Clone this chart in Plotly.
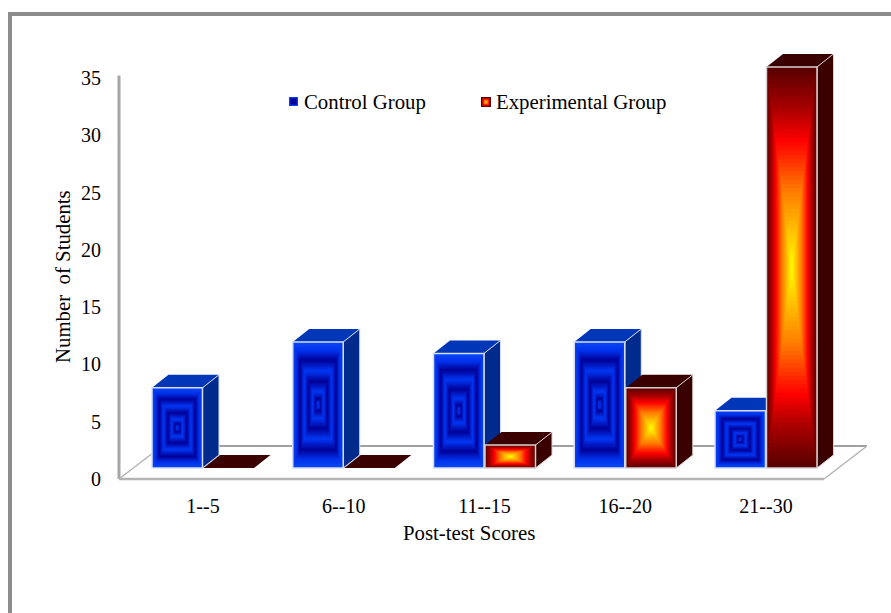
import plotly.graph_objects as go

# Chart data
categories = ["1--5", "6--10", "11--15", "16--20", "21--30"]
control_group = [7, 11, 10, 11, 5]
experimental_group = [0, 0, 2, 7, 35]
y_ticks = [0, 5, 10, 15, 20, 25, 30, 35]

# Canvas and plot-area geometry, in pixels
WIDTH, HEIGHT = 891, 613
LEFT, TOP, BOTTOM = 116, 40, 484
FLOOR_LEFT, FLOOR_RIGHT = 119, 824
ZERO_PX = 479          # pixel row of value 0 on the front floor edge
UNIT_PX = 11.46        # pixels per student
CAT_PX = 140.75        # pixels per category
CAT0_PX = 203          # pixel column of the first category

x_range = [(LEFT - CAT0_PX) / CAT_PX, (WIDTH - CAT0_PX) / CAT_PX]
y_range = [(ZERO_PX - BOTTOM) / UNIT_PX, (ZERO_PX - TOP) / UNIT_PX]

# Faux-3D bar geometry, in axis units
BAR_W = 50.5 / CAT_PX
GAP = 1 / CAT_PX
DX = 16.5 / CAT_PX
DY = 13 / UNIT_PX
BASE = 11 / UNIT_PX    # bars stand a little behind the front floor edge

FONT = "Liberation Serif"

BLUE_STOPS = [(0, (10, 70, 245)), (.13, (0, 50, 235)), (.28, (0, 0, 150)), (.45, (0, 56, 245)),
              (.62, (0, 0, 150)), (.78, (0, 56, 245)), (.9, (0, 0, 150)),
              (.96, (0, 56, 245)), (1, (0, 0, 190))]
RED_STOPS = [(0, (90, 0, 0)), (.2, (170, 0, 0)), (.36, (255, 0, 0)), (.6, (255, 120, 0)),
             (.8, (255, 190, 0)), (1, (255, 255, 0))]


def blend(stops, t):
    for (t0, c0), (t1, c1) in zip(stops, stops[1:]):
        if t <= t1:
            f = (t - t0) / (t1 - t0)
            r, g, b = [round(a + (z - a) * f) for a, z in zip(c0, c1)]
            return f"rgb({r},{g},{b})"
    return "rgb(%d,%d,%d)" % stops[-1][1]


def polygon(points, fill, line=None, width=0, xref="x", yref="y"):
    path = "M " + " L ".join(f"{x:.5f},{y:.5f}" for x, y in points) + " Z"
    return dict(type="path", path=path, xref=xref, yref=yref, fillcolor=fill,
                line=dict(color=line or fill, width=width), layer="above")


def rings(x0, x1, y0, y1, stops, steps, xref="x", yref="y"):
    """Nested rectangles that shrink towards the centre: a rectangular path gradient."""
    cx, cy = (x0 + x1) / 2, (y0 + y1) / 2
    out = []
    for i in range(steps):
        t = i / steps
        s = 1 - t
        out.append(dict(type="rect", xref=xref, yref=yref, layer="above",
                        x0=cx - (cx - x0) * s, x1=cx + (x1 - cx) * s,
                        y0=cy - (cy - y0) * s, y1=cy + (y1 - cy) * s,
                        fillcolor=blend(stops, t), line=dict(width=0)))
    return out


def bar_shapes(x0, value, stops, top_color, side_color, edge):
    x1 = x0 + BAR_W
    y0, y1 = BASE, BASE + value
    out = [polygon([(x0, y1), (x1, y1), (x1 + DX, y1 + DY), (x0 + DX, y1 + DY)], top_color)]
    if value > 0:
        out.append(polygon([(x1, y0), (x1 + DX, y0 + DY), (x1 + DX, y1 + DY), (x1, y1)],
                           side_color, edge, 1))
        out += rings(x0, x1, y0, y1, stops, 48)
        out.append(dict(type="rect", xref="x", yref="y", layer="above", x0=x0, x1=x1, y0=y0, y1=y1,
                        fillcolor="rgba(0,0,0,0)", line=dict(color=edge, width=1.5)))
    return out


def px_x(px):
    return (px - LEFT) / (WIDTH - LEFT)


def px_y(px):
    return (BOTTOM - px) / (BOTTOM - TOP)


shapes = []

# Picture frame: open at the bottom and on the right
shapes.append(dict(type="rect", xref="paper", yref="paper", layer="below", line=dict(width=0),
                   fillcolor="#8c8c8c", x0=px_x(8), x1=px_x(12), y0=px_y(613), y1=px_y(12)))
shapes.append(dict(type="rect", xref="paper", yref="paper", layer="below", line=dict(width=0),
                   fillcolor="#8c8c8c", x0=px_x(8), x1=px_x(891), y0=px_y(16), y1=px_y(12)))

# Floor and back wall, placed through the axis scales
fx0, fx1 = (FLOOR_LEFT - CAT0_PX) / CAT_PX, (FLOOR_RIGHT - CAT0_PX) / CAT_PX
back_dx, back_dy = 43 / CAT_PX, 33 / UNIT_PX
wall_top = 35.2
for (xa, ya, xb, yb), w, color in [
    ((fx0, 0, fx0, wall_top), 3, "#a6a6a6"),
    ((fx0 + back_dx, back_dy, fx1 + back_dx, back_dy), 2, "#a0a0a0"),
    ((fx0, 0, fx0 + back_dx, back_dy), 1.5, "#b4b4b4"),
    ((fx1, 0, fx1 + back_dx, back_dy), 1.5, "#b4b4b4"),
    ((fx0, 0, fx1, 0), 2.5, "#b4b4b4"),
]:
    shapes.append(dict(type="line", xref="x", yref="y", layer="above", x0=xa, y0=ya, x1=xb, y1=yb,
                       line=dict(color=color, width=w)))

# Bars, drawn back to front within each category
positions = list(range(len(categories)))
for i in positions:
    shapes += bar_shapes(i - BAR_W - GAP / 2, control_group[i], BLUE_STOPS, "#0036b8", "#002a8c", "#d5def5")
    shapes += bar_shapes(i + GAP / 2, experimental_group[i], RED_STOPS, "#3a0000", "#3a0000", "#d8d0d0")

# Legend swatches
shapes += rings(px_x(289), px_x(298), px_y(106), px_y(97), BLUE_STOPS[:3], 5, "paper", "paper")
shapes += rings(px_x(481), px_x(491), px_y(107), px_y(97), RED_STOPS, 6, "paper", "paper")

fig = go.Figure()
fig.add_trace(go.Bar(x=positions, y=control_group, base=BASE, width=BAR_W, offset=-BAR_W - GAP / 2,
                     name="Control Group", marker=dict(color="#0032d0", line=dict(width=0))))
fig.add_trace(go.Bar(x=positions, y=experimental_group, base=BASE, width=BAR_W, offset=GAP / 2,
                     name="Experimental Group", marker=dict(color="#ff7800", line=dict(width=0))))

tick_font = dict(family=FONT, size=20, color="black")
text_font = dict(family=FONT, size=20.8, color="black")
annotations = [
    dict(text="Control Group", x=px_x(302), y=px_y(102), xref="paper", yref="paper",
         xanchor="left", yanchor="middle", showarrow=False, font=text_font),
    dict(text="Experimental Group", x=px_x(494), y=px_y(102), xref="paper", yref="paper",
         xanchor="left", yanchor="middle", showarrow=False, font=text_font),
    dict(text="Post-test Scores", x=px_x(469), y=px_y(532), xref="paper", yref="paper",
         xanchor="center", yanchor="middle", showarrow=False, font=text_font),
    dict(text="Number  of Students", x=px_x(62), y=px_y(277), xref="paper", yref="paper",
         xanchor="center", yanchor="middle", showarrow=False, font=text_font, textangle=-90),
]

fig.update_layout(
    width=WIDTH, height=HEIGHT, autosize=False, showlegend=False, barmode="overlay",
    margin=dict(l=LEFT, r=0, t=TOP, b=HEIGHT - BOTTOM, pad=0),
    paper_bgcolor="white", plot_bgcolor="white",
    font=text_font, shapes=shapes, annotations=annotations,
    xaxis=dict(range=x_range, tickmode="array", tickvals=positions, ticktext=categories,
               showgrid=False, zeroline=False, showline=False, ticks="outside", ticklen=4,
               tickcolor="rgba(0,0,0,0)", tickfont=tick_font),
    yaxis=dict(range=y_range, tickmode="array", tickvals=y_ticks,
               showgrid=False, zeroline=False, showline=False, ticks="outside", ticklen=10,
               tickcolor="rgba(0,0,0,0)", tickfont=tick_font),
)

fig.write_html("out.html", config=dict(displayModeBar=False))
